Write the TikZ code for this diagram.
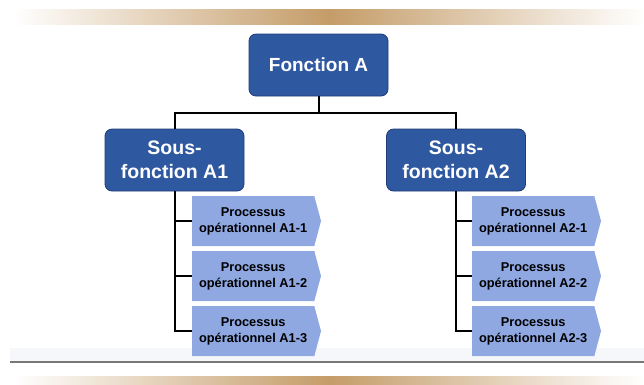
\documentclass[tikz,border=0pt]{standalone}
\usepackage{fontspec}
\setmainfont{Liberation Sans}
\usetikzlibrary{shapes.symbols}
\definecolor{bandtan}{RGB}{196,156,104}
\definecolor{darkblue}{RGB}{46,88,160}
\definecolor{darkblueline}{RGB}{30,60,120}
\definecolor{lightblue}{RGB}{143,168,226}
\definecolor{rulegray}{RGB}{120,120,120}
\definecolor{faintband}{RGB}{246,247,250}
\begin{document}
\begin{tikzpicture}[x=1pt,y=1pt,
  topbox/.style={draw=darkblueline, line width=0.8pt, fill=darkblue, rounded corners=7pt,
    minimum width=139pt, minimum height=62pt, inner sep=0pt, text=white, align=center,
    font=\bfseries\fontsize{19}{24}\selectfont},
  subbox/.style={topbox, font=\bfseries\fontsize{19.5}{24}\selectfont},
  procbox/.style={signal, signal to=east, signal pointer angle=150, fill=lightblue,
    minimum width=129pt, minimum height=50pt, inner sep=0pt, outer sep=0pt, align=center,
    anchor=west, font=\bfseries\fontsize{12.8}{16}\selectfont},
  conn/.style={line width=2pt, black}]
\useasboundingbox (0,0) rectangle (644,-384);
% decorative bands
\shade[left color=white, right color=white, middle color=bandtan] (13,-9) rectangle (644,-24);
\shade[left color=white, right color=white, middle color=bandtan] (13,-376) rectangle (644,-384);
\fill[faintband] (10,-348) rectangle (644,-361);
\draw[rulegray, line width=1.5pt] (10,-362) -- (644,-362);
% nodes
\node[topbox] (F) at (318.5,-65) {Fonction A};
\node[subbox] (A1) at (174.5,-160) {Sous-\\fonction A1};
\node[subbox] (A2) at (456,-160) {Sous-\\fonction A2};
\node[procbox] (P11) at (192,-221) {Processus\\opérationnel A1-1};
\node[procbox] (P12) at (192,-276) {Processus\\opérationnel A1-2};
\node[procbox] (P13) at (192,-331) {Processus\\opérationnel A1-3};
\node[procbox] (P21) at (472,-221) {Processus\\opérationnel A2-1};
\node[procbox] (P22) at (472,-276) {Processus\\opérationnel A2-2};
\node[procbox] (P23) at (472,-331) {Processus\\opérationnel A2-3};
% connectors
\coordinate (J) at (318.5,-113);
\draw[conn] (F.south) -- (J);
\draw[conn] (J) -| (A1.north);
\draw[conn] (J) -| (A2.north);
\draw[conn] (A1.south) |- (P11.west);
\draw[conn] (A1.south) |- (P12.west);
\draw[conn] (A1.south) |- (P13.west);
\draw[conn] (A2.south) |- (P21.west);
\draw[conn] (A2.south) |- (P22.west);
\draw[conn] (A2.south) |- (P23.west);
\end{tikzpicture}
\end{document}
